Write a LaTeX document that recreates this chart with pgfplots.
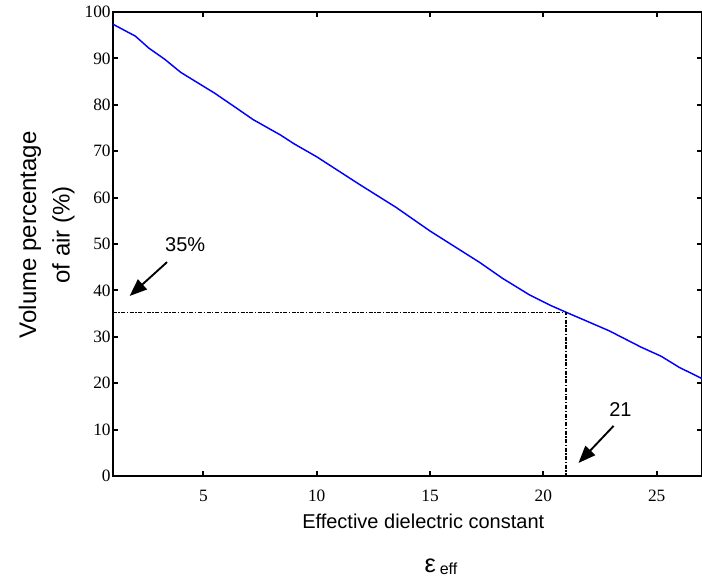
\documentclass[border=0pt]{standalone}
\usepackage{pgfplots}
\pgfplotsset{compat=1.18}
\usetikzlibrary{arrows.meta}
\usepackage{fontspec}
\setmainfont{Liberation Serif}
\newfontfamily\arial{Liberation Sans}
\begin{document}
\begin{tikzpicture}
\begin{axis}[
  scale only axis,
  width=442pt, height=348pt,
  xmin=1, xmax=27, ymin=0, ymax=100,
  xtick={5,10,15,20,25},
  ytick={0,10,20,30,40,50,60,70,80,90,100},
  tick align=inside,
  major tick length=4pt,
  axis line style={line width=1.5pt},
  tick style={line width=1.4pt, black},
  tick label style={font=\fontsize{13}{15}\selectfont},
  /pgf/number format/assume math mode=true,
  xticklabel style={yshift=-7pt},
  yticklabel style={xshift=2pt},
  clip mode=individual,
]
\addplot[blue, line width=1.1pt] coordinates {
(1,97.4) (2,94.8) (2.6,92.2) (3.3,89.8) (4,87.0) (5,84.0) (5.5,82.5)
(6.4,79.5) (7.2,76.8) (8.4,73.5) (9,71.6) (10,68.8) (11.9,62.8) (13.5,57.9)
(15,52.8) (17.2,46.0) (18.2,42.6) (19.4,39.0) (20.3,36.8) (21,35.3)
(22,33.2) (22.9,31.3) (24.3,27.8) (25.2,25.8) (26,23.4) (27,21.0)
};
\addplot[black, line width=1pt, dash pattern=on 3pt off 1.2pt on 1pt off 1.2pt] coordinates {(1,35.3) (21,35.3) (21,0)};
\draw[-{Triangle[length=13pt,width=10pt]}, line width=1.4pt, black] (axis cs:3.4,46.1) -- (axis cs:1.75,38.8);
\draw[-{Triangle[length=13pt,width=10pt]}, line width=1.4pt, black] (axis cs:23.1,10.8) -- (axis cs:21.55,2.8);
\node[font=\arial\fontsize{15}{17}\selectfont] at (axis cs:4.2,49.8) {35\%};
\node[font=\arial\fontsize{15}{17}\selectfont] at (axis cs:23.4,14.3) {21};
\coordinate (ll) at (rel axis cs:0,0);
\coordinate (ur) at (rel axis cs:1,1);
\node[font=\arial\fontsize{15}{17}\selectfont] at (rel axis cs:0.527,-0.097) {Effective dielectric constant};
\node[font=\arial\fontsize{19}{22}\selectfont, anchor=base] at (rel axis cs:0.539,-0.209) {ε};
\node[font=\arial\fontsize{12}{14}\selectfont, anchor=base, inner sep=1pt] at (rel axis cs:0.570,-0.213) {eff};
\node[font=\arial\fontsize{18}{23}\selectfont, rotate=90, align=center] at (rel axis cs:-0.112,0.52) {Volume percentage\\[2pt]of air (\%)};
\end{axis}
\pgfresetboundingbox
\path (ll) ++(-84.5pt,-78pt) coordinate (a);
\path (ur) ++(0pt,9pt) coordinate (b);
\useasboundingbox (a) rectangle (b);
\end{tikzpicture}
\end{document}
